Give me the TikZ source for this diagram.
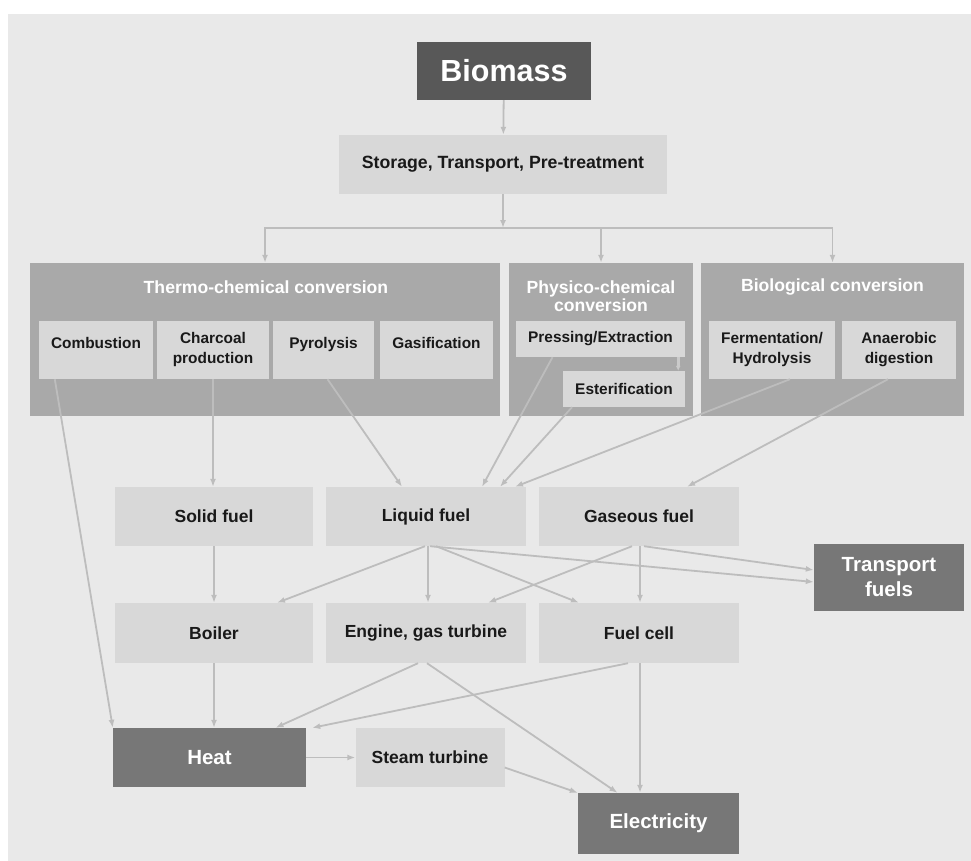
\documentclass[tikz,border=0pt]{standalone}
\usepackage{fontspec}
\setmainfont{Liberation Sans}
\usetikzlibrary{arrows.meta}

\definecolor{fondo}{HTML}{E9E9E9}
\definecolor{clara}{HTML}{D8D8D8}
\definecolor{media}{HTML}{A9A9A9}
\definecolor{oscura}{HTML}{777777}
\definecolor{biomasa}{HTML}{585858}
\definecolor{linea}{HTML}{BDBDBD}

\begin{document}
\begin{tikzpicture}[x=1pt, y=-1pt,
    caja/.style={rectangle, fill=clara, inner sep=0pt, align=center, text=black!90,
      font=\fontsize{17.5}{19}\selectfont\bfseries},
    sub/.style={caja, minimum height=58pt, font=\fontsize{15.4}{20}\selectfont\bfseries},
    alto/.style={text height=11pt, text depth=15pt},
    grupo/.style={rectangle, fill=media, inner sep=0pt, minimum height=153pt},
    titulo/.style={text=white, align=center, inner sep=0pt,
      font=\fontsize{17.6}{18}\selectfont\bfseries},
    oscura/.style={rectangle, fill=oscura, inner sep=0pt, align=center, text=white,
      font=\fontsize{20.5}{25}\selectfont\bfseries},
    flecha/.style={-{Latex[length=8pt,width=6pt]}, draw=linea, line width=1.8pt}]

      % fondo
      \useasboundingbox (0,0) rectangle (971,861);
      \fill[white] (0,0) rectangle (971,861);
      \fill[fondo] (8,14) rectangle (971,861);

      % arriba
      \node[rectangle, fill=biomasa, text=white, minimum width=174pt, minimum height=58pt,
        font=\fontsize{30.5}{32}\selectfont\bfseries] (biomass) at (504,71) {Biomass};
      \node[caja, minimum width=328pt, minimum height=59pt,
        font=\fontsize{17.7}{19}\selectfont\bfseries] (storage) at (503,164.5)
        {Storage, Transport, Pre-treatment};
      \coordinate (reparto) at (503,228);

      % grupos de conversion
      \node[grupo, minimum width=470pt] (thermo) at (265,339.5) {};
      \node[grupo, minimum width=184pt] (physico) at (601,339.5) {};
      \node[grupo, minimum width=263pt] (bio) at (832.5,339.5) {};
      \node[titulo] (thermo-t) at (266,287) {Thermo-chemical conversion};
      \node[titulo] (physico-t) at (601,296) {Physico-chemical\\conversion};
      \node[titulo] (bio-t) at (832.5,287) {Biological conversion};

      \node[sub, alto, minimum width=114pt] (comb) at (96,350) {Combustion};
      \node[sub, minimum width=112pt] (charcoal) at (213,350) {Charcoal\\production};
      \node[sub, alto, minimum width=101pt] (pyro) at (323.5,350) {Pyrolysis};
      \node[sub, alto, minimum width=113pt] (gasif) at (436.5,350) {Gasification};
      \node[sub, minimum width=169pt, minimum height=36pt] (press) at (600.5,339) {Pressing/Extraction};
      \node[sub, minimum width=122pt, minimum height=36pt] (ester) at (624,389) {Esterification};
      \node[sub, minimum width=126pt] (ferm) at (772,350) {Fermentation/\\Hydrolysis};
      \node[sub, minimum width=114pt] (anaer) at (899,350) {Anaerobic\\digestion};

      % combustibles
      \node[caja, minimum width=198pt, minimum height=59pt] (solid) at (214,516.5) {Solid fuel};
      \node[caja, minimum width=200pt, minimum height=59pt] (liquid) at (426,516.5) {Liquid fuel};
      \node[caja, minimum width=200pt, minimum height=59pt] (gas) at (639,516.5) {Gaseous fuel};
      \node[oscura, minimum width=150pt, minimum height=67pt] (transport) at (889,577.5) {Transport\\fuels};

      % equipos
      \node[caja, minimum width=198pt, minimum height=60pt] (boiler) at (214,633) {Boiler};
      \node[caja, minimum width=200pt, minimum height=60pt] (engine) at (426,633) {Engine, gas turbine};
      \node[caja, minimum width=200pt, minimum height=60pt] (fuelcell) at (639,633) {Fuel cell};

      % salidas
      \node[oscura, minimum width=193pt, minimum height=59pt] (heat) at (209.5,757.5) {Heat};
      \node[caja, minimum width=149pt, minimum height=59pt] (steam) at (430,757.5) {Steam turbine};
      \node[oscura, minimum width=161pt, minimum height=61pt] (elec) at (658.5,823.5) {Electricity};

      % flechas arriba
      \draw[flecha] (biomass) -- (storage);
      \draw[flecha] (storage) -- (reparto);
      \draw[flecha] (reparto) -| (thermo.north);
      \draw[flecha] (reparto) -| (physico.north);
      \draw[flecha] (reparto) -| (bio.north);
      \draw[-{Latex[length=5pt,width=5pt]}, draw=linea!80, line width=3pt]
        ([xshift=-7pt]press.south east) -- ([xshift=-7pt]ester.north east);

      % flechas a combustibles
      \draw[flecha] (charcoal.south) -- (charcoal.south |- solid.north);
      \draw[flecha] ([xshift=4pt]pyro.south) -- ([xshift=-24pt]liquid.north);
      \draw[flecha] ([xshift=-48pt]press.south) -- ([xshift=56pt]liquid.north);
      \draw[flecha] ([xshift=-52pt]ester.south) -- ([xshift=74pt]liquid.north);
      \draw[flecha] ([xshift=18pt]ferm.south) -- ([xshift=89pt]liquid.north);
      \draw[flecha] ([xshift=-11pt]anaer.south) -- ([xshift=48pt]gas.north);
      \draw[flecha] ([xshift=16pt]comb.south west) -- (heat.north west);

      % flechas a equipos
      \draw[flecha] (solid) -- (boiler);
      \draw[flecha] ([xshift=-1pt]liquid.south) -- ([xshift=63pt]boiler.north);
      \draw[flecha] ([xshift=2pt]liquid.south) -- ([xshift=2pt]engine.north);
      \draw[flecha] ([xshift=10pt]liquid.south) -- ([xshift=-60pt]fuelcell.north);
      \draw[flecha] ([xshift=4pt]liquid.south) -- ([yshift=-4.5pt]transport.west);
      \draw[flecha] ([xshift=-7pt]gas.south) -- ([xshift=62pt]engine.north);
      \draw[flecha] ([xshift=1pt]gas.south) -- ([xshift=1pt]fuelcell.north);
      \draw[flecha] ([xshift=5pt]gas.south) -- ([yshift=7.5pt]transport.west);

      % flechas a salidas
      \draw[flecha] (boiler) -- (boiler.south |- heat.north);
      \draw[flecha] ([xshift=-8pt]engine.south) -- ([xshift=66pt]heat.north);
      \draw[flecha] ([xshift=1pt]engine.south) -- ([xshift=-41pt]elec.north);
      \draw[flecha] ([xshift=-11pt]fuelcell.south) -- ([xshift=6pt]heat.north east);
      \draw[flecha] ([xshift=1pt]fuelcell.south) -- ([xshift=1pt]fuelcell.south |- elec.north);
      \draw[flecha] (heat) -- (steam);
      \draw[flecha] ([yshift=-10pt]steam.east) -- (elec.north west);

  \end{tikzpicture}
\end{document}
